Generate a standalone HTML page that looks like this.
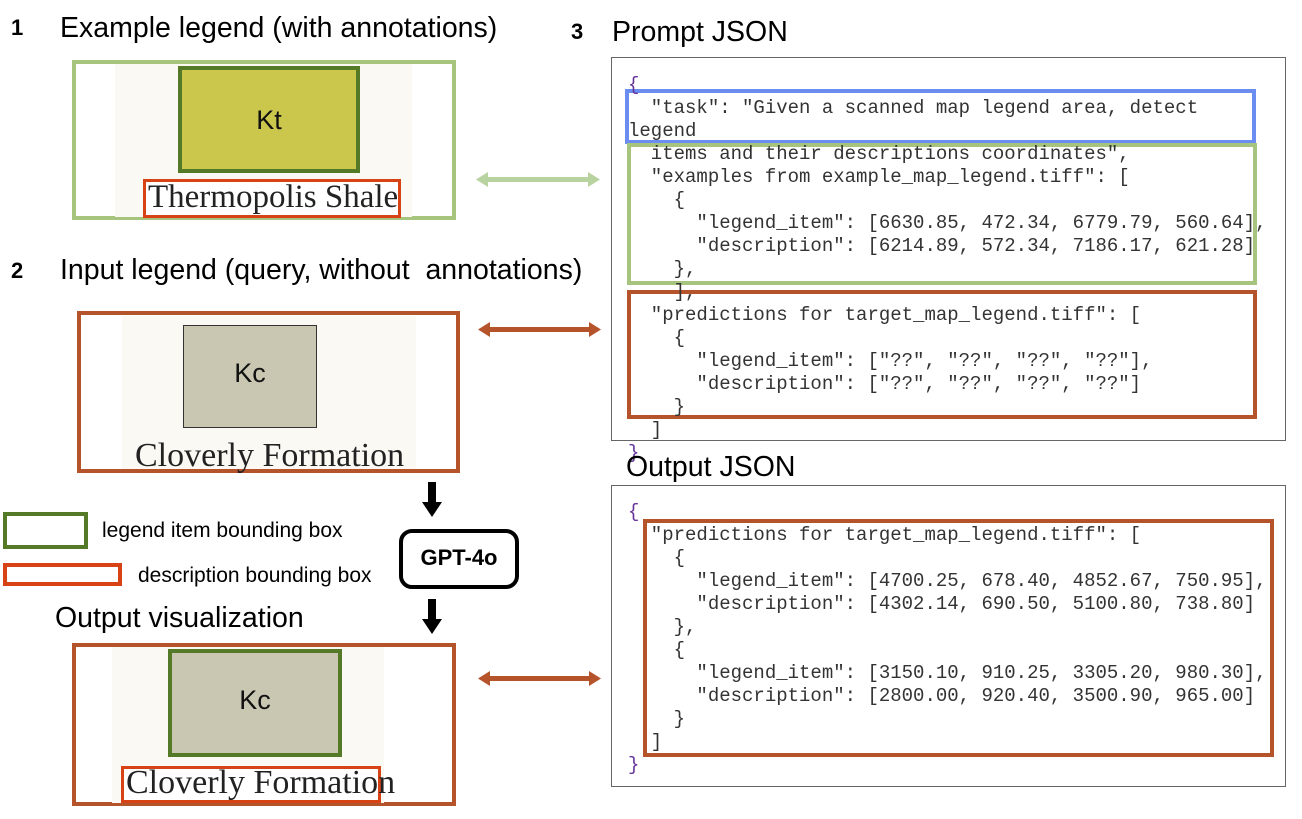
<!DOCTYPE html>
<html><head><meta charset="utf-8"><style>
body{margin:0;width:1302px;height:819px;background:#fff;position:relative;overflow:hidden;font-family:"Liberation Sans",sans-serif;}
.a{position:absolute;box-sizing:border-box;}
.t{position:absolute;white-space:nowrap;color:#000;}
.h{font-size:28.5px;}
.num{font-size:22px;font-weight:bold;}
.serif{font-family:"Liberation Serif",serif;font-size:33px;color:#222;white-space:nowrap;position:absolute;}
.k{font-size:27px;color:#111;text-align:center;}
pre{position:absolute;margin:0;font-family:"Liberation Mono","Courier New",monospace;font-size:19px;line-height:23px;color:#333;}
</style></head><body>

<div class="t num" style="left:11px;top:15px">1</div>
<div class="t h" style="left:60px;top:12px">Example legend (with annotations)</div>
<div class="a" style="left:72px;top:60px;width:384px;height:160px;border:4px solid #a6c47e"></div>
<div class="a" style="left:115px;top:64px;width:297px;height:153px;background:#faf9f4"></div>
<div class="a" style="left:178px;top:66px;width:182px;height:107px;background:#cbc64c;border:4px solid #557a27"></div>
<div class="t k" style="left:178px;top:105px;width:182px">Kt</div>
<div class="a" style="left:143px;top:179px;width:258px;height:39px;border:3px solid #d84315;background:#fff"></div>
<div class="serif" style="left:148px;top:179px">Thermopolis Shale</div>

<svg class="a" style="left:470px;top:160px" width="140" height="540">
<g fill="#b8d3a0"><rect x="14" y="17" width="108" height="5"/><polygon points="6,19.5 18,12 18,27"/><polygon points="130,19.5 118,12 118,27"/></g>
<g fill="#b5532b"><rect x="16" y="167" width="108" height="5"/><polygon points="8,169.5 20,162 20,177"/><polygon points="131,169.5 119,162 119,177"/>
<rect x="16" y="516" width="108" height="5"/><polygon points="8,518.5 20,511 20,526"/><polygon points="131,518.5 119,511 119,526"/></g>
</svg>

<div class="t num" style="left:11px;top:258px">2</div>
<div class="t h" style="left:60px;top:254px">Input legend (query, without&nbsp; annotations)</div>
<div class="a" style="left:77px;top:311px;width:383px;height:162px;border:4px solid #b5532b"></div>
<div class="a" style="left:122px;top:316px;width:294px;height:153px;background:#faf9f4"></div>
<div class="a" style="left:183px;top:325px;width:134px;height:103px;background:#c9c7b1;border:1.5px solid #333"></div>
<div class="t k" style="left:183px;top:358px;width:134px">Kc</div>
<div class="serif" style="left:135px;top:437px;font-size:34px">Cloverly Formation</div>

<svg class="a" style="left:415px;top:482px" width="36" height="156">
<rect x="13" y="0" width="8" height="22" fill="#000"/><polygon points="7,20 27,20 17,35" fill="#000"/>
<rect x="13" y="117" width="8" height="22" fill="#000"/><polygon points="7,137 27,137 17,152" fill="#000"/>
</svg>
<div class="a" style="left:399px;top:529px;width:120px;height:60px;border:4px solid #000;border-radius:13px"></div>
<div class="t" style="left:399px;top:545px;width:120px;text-align:center;font-size:22px;font-weight:bold">GPT-4o</div>

<div class="a" style="left:3px;top:512px;width:85px;height:37px;border:4px solid #557a27"></div>
<div class="t" style="left:102px;top:519px;font-size:21px">legend item bounding box</div>
<div class="a" style="left:3px;top:563px;width:119px;height:23px;border:4px solid #d84315"></div>
<div class="t" style="left:138px;top:564px;font-size:21px">description bounding box</div>

<div class="t h" style="left:55px;top:602px">Output visualization</div>
<div class="a" style="left:72px;top:643px;width:384px;height:163px;border:4px solid #b5532b"></div>
<div class="a" style="left:112px;top:647px;width:272px;height:156px;background:#faf9f4"></div>
<div class="a" style="left:168px;top:649px;width:174px;height:108px;background:#c9c7b1;border:4px solid #557a27"></div>
<div class="t k" style="left:168px;top:685px;width:174px">Kc</div>
<div class="a" style="left:121px;top:766px;width:260px;height:37px;border:3px solid #d84315;background:#fff"></div>
<div class="serif" style="left:126px;top:764px;font-size:34px">Cloverly Formation</div>

<div class="t num" style="left:571px;top:19px">3</div>
<div class="t h" style="left:612px;top:16px">Prompt JSON</div>
<div class="a" style="left:611px;top:57px;width:675px;height:384px;border:1.5px solid #666"></div>
<div class="a" style="left:625px;top:89px;width:631px;height:55px;border:4px solid #6b8cf0"></div>
<div class="a" style="left:627px;top:143px;width:630px;height:142px;border:4px solid #a6c47e"></div>
<div class="a" style="left:627px;top:290px;width:630px;height:129px;border:4px solid #b5532b"></div>
<pre style="left:628px;top:74px"><span style="color:#639">{</span>
  "task": "Given a scanned map legend area, detect
legend
  items and their descriptions coordinates",
  "examples from example_map_legend.tiff": [
    {
      "legend_item": [6630.85, 472.34, 6779.79, 560.64],
      "description": [6214.89, 572.34, 7186.17, 621.28]
    },
    ],
  "predictions for target_map_legend.tiff": [
    {
      "legend_item": ["??", "??", "??", "??"],
      "description": ["??", "??", "??", "??"]
    }
  ]
<span style="color:#639">}</span></pre>

<div class="t h" style="left:626px;top:451px">Output JSON</div>
<div class="a" style="left:611px;top:485px;width:675px;height:302px;border:1.5px solid #666"></div>
<div class="a" style="left:643px;top:519px;width:631px;height:238px;border:4px solid #b5532b"></div>
<pre style="left:628px;top:501px"><span style="color:#639">{</span>
  "predictions for target_map_legend.tiff": [
    {
      "legend_item": [4700.25, 678.40, 4852.67, 750.95],
      "description": [4302.14, 690.50, 5100.80, 738.80]
    },
    {
      "legend_item": [3150.10, 910.25, 3305.20, 980.30],
      "description": [2800.00, 920.40, 3500.90, 965.00]
    }
  ]
<span style="color:#639">}</span></pre>
</body></html>
